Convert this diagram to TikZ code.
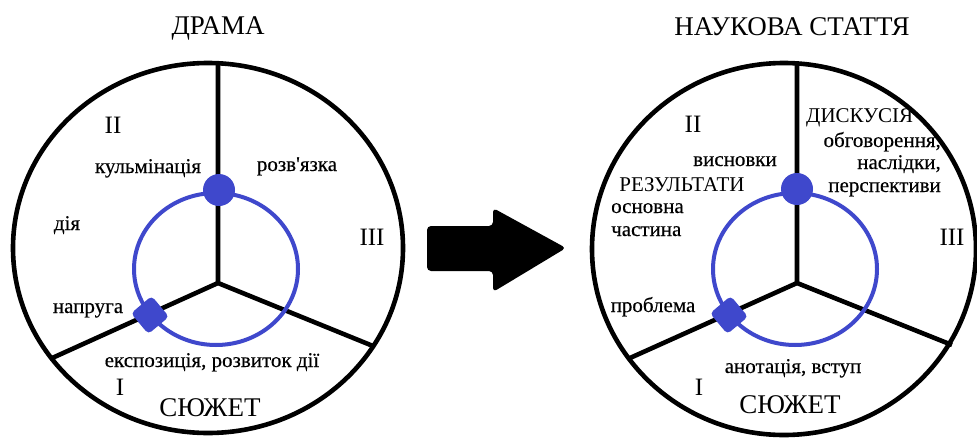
\documentclass[tikz,border=0pt]{standalone}
\usepackage{fontspec}
\setmainfont{Liberation Serif}
\newfontfamily\lblfont{Liberation Serif}[FakeBold=0.35]
\definecolor{pblue}{RGB}{63,72,204}
\begin{document}
\begin{tikzpicture}[x=1pt,y=-1pt,
  outer/.style={line width=4.6pt, draw=black},
  spokeline/.style={line width=4.6pt, draw=black},
  ring/.style={line width=4pt, draw=pblue},
  lbl/.style={inner sep=0pt, font=\lblfont\fontsize{21}{21}\selectfont},
  ttl/.style={inner sep=0pt, anchor=base, font=\fontsize{27}{27}\selectfont},
  num/.style={inner sep=0pt, anchor=base, font=\fontsize{25}{25}\selectfont},
  bdot/.style={circle, fill=pblue, minimum size=32pt, inner sep=0pt},
  bdia/.style={rectangle, fill=pblue, minimum size=27pt, rounded corners=4pt, rotate=40, inner sep=0pt}
]
\useasboundingbox (0,0) rectangle (977,439);
\fill[white] (0,0) rectangle (977,439);

% ---------- left: ДРАМА ----------
\draw[outer] (208,248) ellipse [x radius=195, y radius=185];
\coordinate (Lhub) at (218,283);
\coordinate (Ltop) at (218,63);
\coordinate (Lll) at (50,359);
\coordinate (Llr) at (373,346);
\draw[spokeline] (Ltop) -- (Lhub) -- (Lll) (Lhub) -- (Llr);
\draw[ring] (216,269) ellipse [x radius=82, y radius=76];
\node[bdot] (Ldot) at (219,190) {};
\node[bdia] (Ldia) at (150,315) {};

\node[ttl] (Ltitle) at (218,34) {ДРАМА};
\node[num] (Lii) at (113,133) {II};
\node[lbl, anchor=base] (Lkul) at (148,173) {кульмінація};
\node[lbl, anchor=base] (Lroz) at (297,171) {розв\textquotesingle язка};
\node[lbl, anchor=base] (Ldia2) at (67,230) {дія};
\node[num] (Liii) at (372,245) {III};
\node[lbl, anchor=base] (Lnap) at (88,313) {напруга};
\node[lbl, anchor=base] (Lexp) at (212,367) {експозиція, розвиток дії};
\node[num] (Li) at (120,395) {I};
\node[ttl] (Lsyu) at (210,416) {СЮЖЕТ};

% ---------- arrow ----------
\fill[black, rounded corners=4pt] (427,226) -- (493,226) -- (493,208) -- (566,248) -- (493,292) -- (493,271) -- (427,271) -- cycle;

% ---------- right: НАУКОВА СТАТТЯ ----------
\draw[outer] (784,249) ellipse [x radius=192, y radius=186];
\coordinate (Rhub) at (797,283);
\coordinate (Rtop) at (797,63);
\coordinate (Rll) at (630,358);
\coordinate (Rlr) at (952,345);
\draw[spokeline] (Rtop) -- (Rhub) -- (Rll) (Rhub) -- (Rlr);
\draw[ring] (795,269) ellipse [x radius=82, y radius=76];
\node[bdot] (Rdot) at (797,189) {};
\node[bdia] (Rdia) at (729,315) {};

\node[ttl] (Rtitle) at (792,35) {НАУКОВА СТАТТЯ};
\node[num] (Rii) at (693,132) {II};
\node[lbl, anchor=base] (Rvys) at (735,166) {висновки};
\node[inner sep=0pt, font=\fontsize{21}{21}\selectfont, anchor=base] (Rrez) at (682,191) {РЕЗУЛЬТАТИ};
\node[lbl, anchor=base west] (Rosn) at (611,213) {основна};
\node[lbl, anchor=base west] (Rchas) at (611,236) {частина};
\node[lbl, anchor=base] (Rprob) at (653,312) {проблема};
\node[inner sep=0pt, font=\fontsize{21}{21}\selectfont, anchor=base west] (Rdysk) at (806,122) {ДИСКУСІЯ};
\node[lbl, anchor=base east] (Robh) at (941,147) {обговорення,};
\node[lbl, anchor=base east] (Rnasl) at (941,169) {наслідки,};
\node[lbl, anchor=base east] (Rpers) at (941,192) {перспективи};
\node[num] (Riii) at (952,245) {III};
\node[lbl, anchor=base] (Rano) at (793,373) {анотація, вступ};
\node[num] (Ri) at (699,395) {I};
\node[ttl] (Rsyu) at (790,413) {СЮЖЕТ};
\end{tikzpicture}
\end{document}
